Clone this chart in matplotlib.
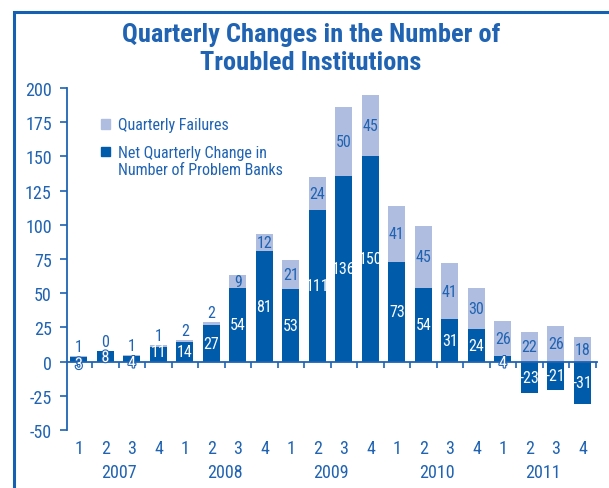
import matplotlib
matplotlib.use('Agg')
import matplotlib.pyplot as plt
import matplotlib.patheffects as pe
from matplotlib.lines import Line2D
from matplotlib.patches import Patch
import numpy as np

quarters = ['1', '2', '3', '4'] * 5
years = ['2007', '2008', '2009', '2010', '2011']
failures = [1, 0, 1, 1, 2, 2, 9, 12, 21, 24, 50, 45, 41, 45, 41, 30, 26, 22, 26, 18]
net_change = [3, 8, 4, 11, 14, 27, 54, 81, 53, 111, 136, 150, 73, 54, 31, 24, 4, -23, -21, -31]
yticks = [-50, -25, 0, 25, 50, 75, 100, 125, 150, 175, 200]

DARK = '#005BAA'
LIGHT = '#AFBDE0'
TXT = '#1F63B2'
plt.rcParams['font.family'] = ['Roboto Condensed', 'DejaVu Sans']

W, H = 609, 489
fig = plt.figure(figsize=(W / 100, H / 100), dpi=100)
ax = fig.add_axes([67 / W, (H - 431) / H, (597 - 67) / W, (431 - 89) / H])

x = np.arange(len(net_change))
net = np.array(net_change)
fail = np.array(failures)
base = np.where(net > 0, net, 0)
bw = 0.64
ax.bar(x, net, width=bw, color=DARK, zorder=2)
ax.bar(x, fail, bottom=base, width=bw, color=LIGHT, zorder=2)

FS = 11.5
stroke = [pe.withStroke(linewidth=1.6, foreground=TXT)]
for i in x:
    n = net[i]
    if 0 <= n < 10:
        ax.text(i, n - 5, str(n), ha='center', va='center', color='white',
                fontsize=FS, zorder=4, path_effects=stroke)
    else:
        y = n / 2 if abs(n) >= 20 else max(n / 2, 7.5)
        ax.text(i, y, str(n), ha='center', va='center', color='white',
                fontsize=FS, zorder=4)
    f = fail[i]
    if f <= 2:
        ax.text(i, base[i] + f + 1.5, str(f), ha='center', va='bottom',
                color=TXT, fontsize=FS, zorder=4)
    else:
        ax.text(i, base[i] + f / 2, str(f), ha='center', va='center',
                color=TXT, fontsize=FS, zorder=4)

ax.set_xlim(-0.45, 19.55)
ax.set_ylim(-50, 200)
ax.set_yticks(yticks)
ax.set_yticklabels([str(v) for v in yticks])
ax.tick_params(axis='y', direction='out', length=5, width=1.2, color=TXT,
               labelcolor=TXT, labelsize=13, pad=6)
for s in ['top', 'right']:
    ax.spines[s].set_visible(False)
ax.spines['left'].set_color(TXT)
ax.spines['left'].set_linewidth(1.3)
ax.spines['bottom'].set_position(('data', 0))
ax.spines['bottom'].set_color(TXT)
ax.spines['bottom'].set_linewidth(1.3)
ax.set_xticks(x + 0.5)
ax.set_xticklabels([])
ax.tick_params(axis='x', direction='out', length=4, width=1.2, color=TXT)

sec = ax.secondary_xaxis('bottom')
sec.spines['bottom'].set_visible(False)
sec.set_xticks(x)
sec.set_xticklabels(quarters)
sec.tick_params(length=0, pad=6.5, labelsize=13, labelcolor=TXT)

sec2 = ax.secondary_xaxis('bottom')
sec2.spines['bottom'].set_visible(False)
sec2.set_xticks(np.arange(len(years)) * 4 + 1.5)
sec2.set_xticklabels(years)
sec2.tick_params(length=0, pad=24, labelsize=13, labelcolor=TXT)

LFS = 11.5
handles = [Patch(color=LIGHT), Patch(color=DARK)]
labels = ['Quarterly Failures', 'Net Quarterly Change in']
leg = fig.legend(handles, labels, loc='upper left', bbox_to_anchor=(101 / W, 1 - 118.5 / H),
                 frameon=False, fontsize=LFS, handlelength=0.56, handleheight=0.56,
                 handletextpad=0.5, labelspacing=0.8, labelcolor=TXT,
                 borderpad=0, borderaxespad=0)
fig.text(118 / W, 1 - 175 / H, 'Number of Problem Banks', ha='left', va='baseline',
         fontsize=LFS, color=TXT)

fig.text(311 / W, 1 - 42 / H, 'Quarterly Changes in the Number of',
         ha='center', va='baseline', fontsize=19, fontweight='bold', color=TXT)
fig.text(311 / W, 1 - 70 / H, 'Troubled Institutions',
         ha='center', va='baseline', fontsize=19, fontweight='bold', color=TXT)

fig.add_artist(Line2D([14 / W, 14 / W, 1], [0, 1 - 13 / H, 1 - 13 / H],
                      transform=fig.transFigure, color='#1560B0', lw=2.2,
                      solid_joinstyle='miter'))

fig.savefig('out.png', dpi=100)
